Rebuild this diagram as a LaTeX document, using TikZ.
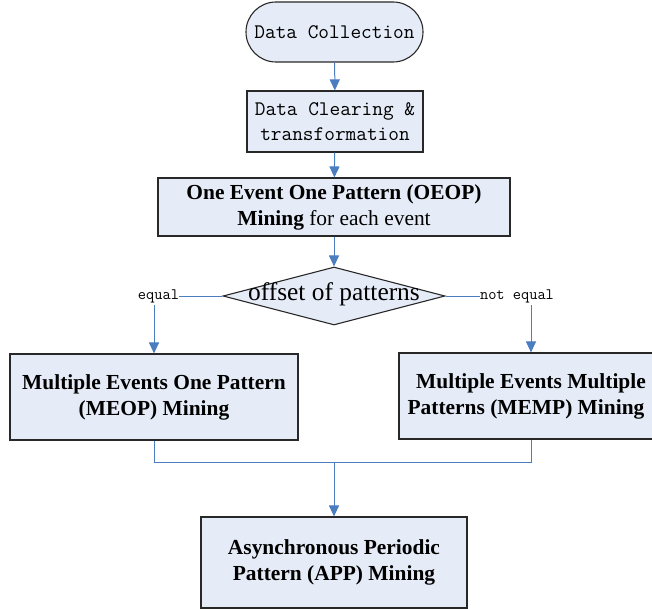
\documentclass[tikz,border=0pt]{standalone}
\usepackage{fontspec}
\setmainfont{Liberation Serif}
\usetikzlibrary{shapes.geometric,arrows.meta}
\definecolor{boxfill}{RGB}{230,236,247}
\definecolor{arrowblue}{RGB}{74,126,193}
\definecolor{boxline}{RGB}{40,40,40}
\tikzset{
  x=1bp, y=-1bp,
  box/.style={draw=boxline, line width=1.1bp, fill=boxfill, align=center, inner sep=0pt},
  monotext/.style={font=\ttfamily\fontsize{20.8}{25}\selectfont},
  serifbold/.style={font=\bfseries\fontsize{21.5}{26}\selectfont},
  arr/.style={draw=arrowblue, line width=1bp, -{Triangle[width=10bp,length=11bp]}},
  conn/.style={draw=arrowblue, line width=1bp},
  lbl/.style={font=\ttfamily\fontsize{16}{18}\selectfont, inner sep=0pt}
}
\begin{document}
\begin{tikzpicture}
\useasboundingbox (0,0) rectangle (652,609);
\node[box, monotext, rounded corners=30bp, minimum width=177bp, minimum height=60bp] (dc) at (334.5,32) {Data Collection};
\node[box, monotext, minimum width=176bp, minimum height=61bp] (clr) at (335,121.5) {Data Clearing \&\\transformation};
\node[box, font=\fontsize{21.5}{26}\selectfont, minimum width=352bp, minimum height=58bp] (oeop) at (334,207) {\textbf{One Event One Pattern (OEOP)}\\\textbf{Mining} for each event};
\node[diamond, draw=boxline, line width=1.1bp, fill=boxfill, minimum width=222bp, minimum height=58bp, inner sep=0pt] (dec) at (334,296) {};
\node[font=\fontsize{25.5}{28}\selectfont, inner sep=0pt] (dectxt) at (334,294) {offset of patterns};
\node[lbl] (eq) at (158.5,296) {equal};
\node[lbl] (neq) at (517,296) {not equal};
\node[box, serifbold, minimum width=288bp, minimum height=86bp] (meop) at (154,397) {Multiple Events One Pattern\\(MEOP) Mining};
\node[box, serifbold, minimum width=264bp, minimum height=86bp] (memp) at (531,396) {Multiple Events Multiple\\Patterns (MEMP) Mining\hspace*{10bp}};
\node[box, serifbold, minimum width=266bp, minimum height=91bp] (app) at (334,562.5) {Asynchronous Periodic\\Pattern (APP) Mining};
\coordinate (eqdown) at (154,305);
\coordinate (neqdown) at (531,305);
\coordinate (merge) at (334,462);
\draw[arr] (dc) -- (clr);
\draw[arr] (clr) -- (oeop);
\draw[arr] (oeop) -- (dec);
\draw[conn] (dec.west) -- (eq.east);
\draw[conn] (dec.east) -- (neq.west);
\draw[arr] (eqdown) -- (eqdown |- meop.north);
\draw[arr] (neqdown) -- (neqdown |- memp.north);
\draw[conn] (meop.south) |- (merge);
\draw[conn] (memp.south) |- (merge);
\draw[arr] (merge) -- (app.north);
\end{tikzpicture}
\end{document}
